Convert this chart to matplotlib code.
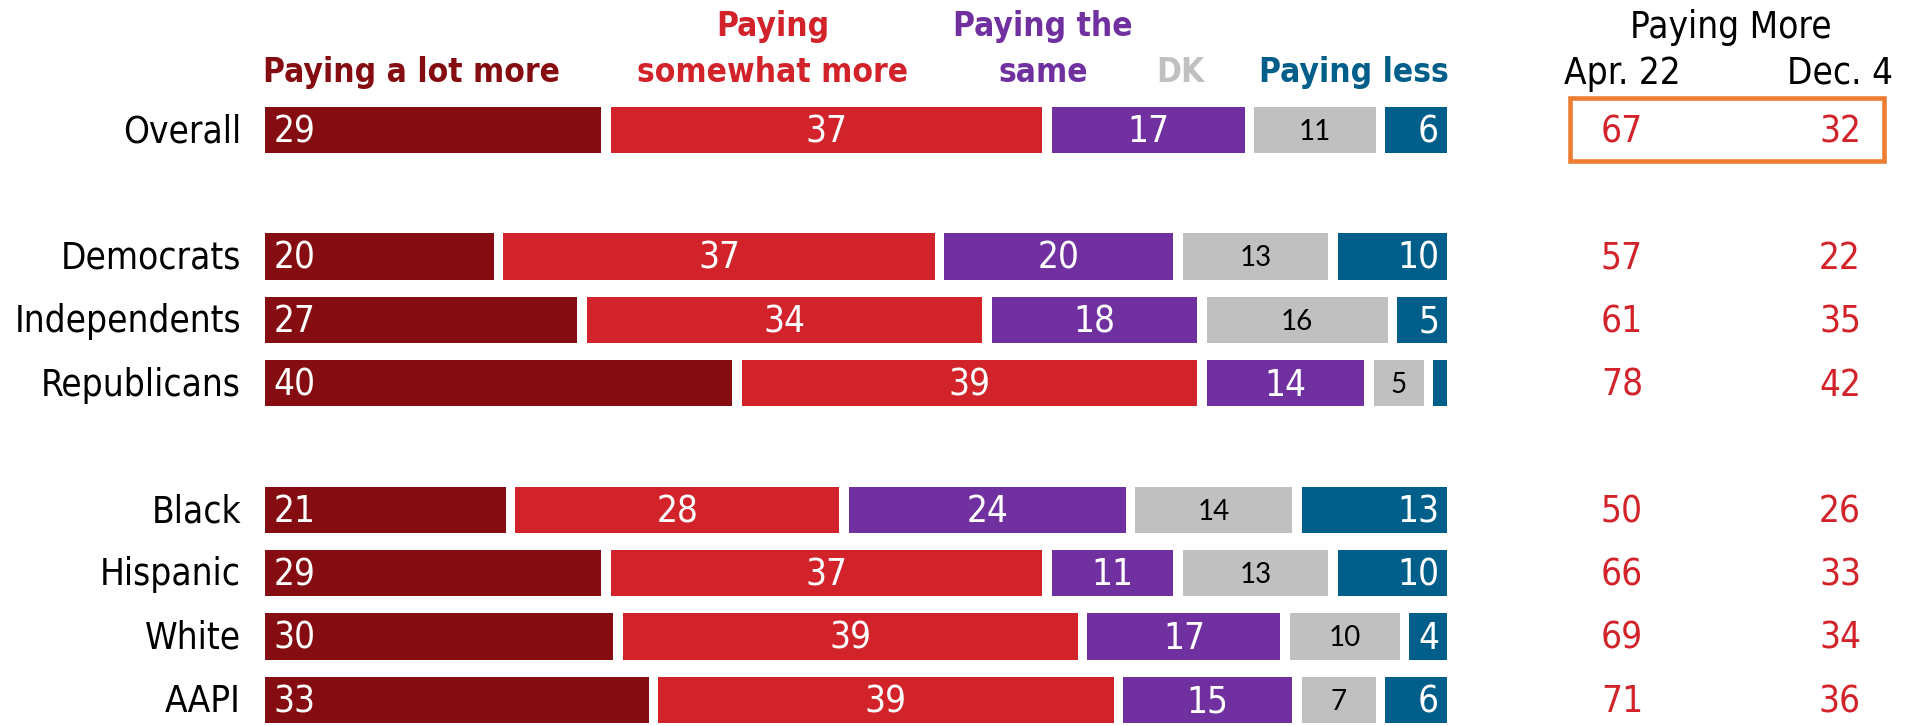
import matplotlib
matplotlib.use('Agg')
import matplotlib.pyplot as plt
from matplotlib.patches import Rectangle

groups = ['Overall', 'Democrats', 'Independents', 'Republicans',
          'Black', 'Hispanic', 'White', 'AAPI']
rows = [0, 2, 3, 4, 6, 7, 8, 9]
a_lot_more = [29, 20, 27, 40, 21, 29, 30, 33]
somewhat_more = [37, 37, 34, 39, 28, 37, 39, 39]
same = [17, 20, 18, 14, 24, 11, 17, 15]
dk = [11, 13, 16, 5, 14, 13, 10, 7]
less = [6, 10, 5, 2, 13, 10, 4, 6]
apr22 = [67, 57, 61, 78, 50, 66, 69, 71]
dec4 = [32, 22, 35, 42, 26, 33, 34, 36]

series = [a_lot_more, somewhat_more, same, dk, less]
names = ['Paying a lot more', 'Paying\nsomewhat more', 'Paying the\nsame', 'DK', 'Paying less']
colors = ['#850c10', '#d2232a', '#7030a0', '#c0c0c0', '#005f8a']

W, H = 1908, 726
k = 11.92          # px per percentage point
x0 = 265           # px where bars start
rowpx = 63.3       # px per row
y0 = 130           # px of first row centre
gap = 0.81

cond = dict(family='DejaVu Sans', fontstretch='condensed')
plain = dict(family=['Lato', 'DejaVu Sans'])
big = 26.5

fig = plt.figure(figsize=(W / 100, H / 100), dpi=100)
ax = fig.add_axes([0, 0, 1, 1])
ax.set_xlim(-x0 / k, (W - x0) / k)
ax.set_ylim((H - y0) / rowpx, -y0 / rowpx)
ax.axis('off')

left = [0] * len(groups)
for s, vals in enumerate(series):
    w = [v - gap for v in vals]
    ax.barh(rows, w, left=left, height=0.73, color=colors[s])
    for i, v in enumerate(vals):
        if v < 4:
            continue
        yy = rows[i] + 0.03
        if s == 0:
            ax.text(left[i] + 0.7, yy, str(v), color='white', ha='left', va='center',
                    fontsize=big, **cond)
        elif s == 3:
            ax.text(left[i] + (v - gap) / 2, yy, str(v), color='black', ha='center',
                    va='center', fontsize=20, **plain)
        elif s == 4:
            ax.text(left[i] + v - gap - 0.7, yy, str(v), color='white', ha='right',
                    va='center', fontsize=big, **cond)
        else:
            ax.text(left[i] + (v - gap) / 2, yy, str(v), color='white', ha='center',
                    va='center', fontsize=big, **cond)
    left = [l + v for l, v in zip(left, vals)]

for g, r in zip(groups, rows):
    ax.text(-24 / k, r + 0.03, g, ha='right', va='center', fontsize=big, **cond)

# right-hand columns
for r, a, d in zip(rows, apr22, dec4):
    ax.text((1622 - x0) / k, r + 0.03, str(a), ha='center', va='center', color='#d2232a',
            fontsize=big, **cond)
    ax.text((1840 - x0) / k, r + 0.03, str(d), ha='center', va='center', color='#d2232a',
            fontsize=big, **cond)

# headers (figure px coords)
def fx(px):
    return px / W

def fy(py):
    return 1 - py / H

hdr_x = [412, 773, 1043, 1180, 1354]
for name, c, hx in zip(names, colors, hdr_x):
    fig.text(fx(hx), fy(82), name, ha='center', va='baseline', color=c, fontsize=24,
             fontweight='bold', linespacing=1.5, **cond)

fig.text(fx(1731), fy(38), 'Paying More', ha='center', va='baseline', fontsize=big, **cond)
fig.text(fx(1622), fy(84), 'Apr. 22', ha='center', va='baseline', fontsize=big, **cond)
fig.text(fx(1840), fy(84), 'Dec. 4', ha='center', va='baseline', fontsize=big, **cond)

fig.patches.append(Rectangle((fx(1570), fy(161)), fx(1884) - fx(1570), fy(98) - fy(161),
                             transform=fig.transFigure, fill=False, edgecolor='#ed7d31',
                             linewidth=3.3))

fig.savefig('out.png', dpi=100)
